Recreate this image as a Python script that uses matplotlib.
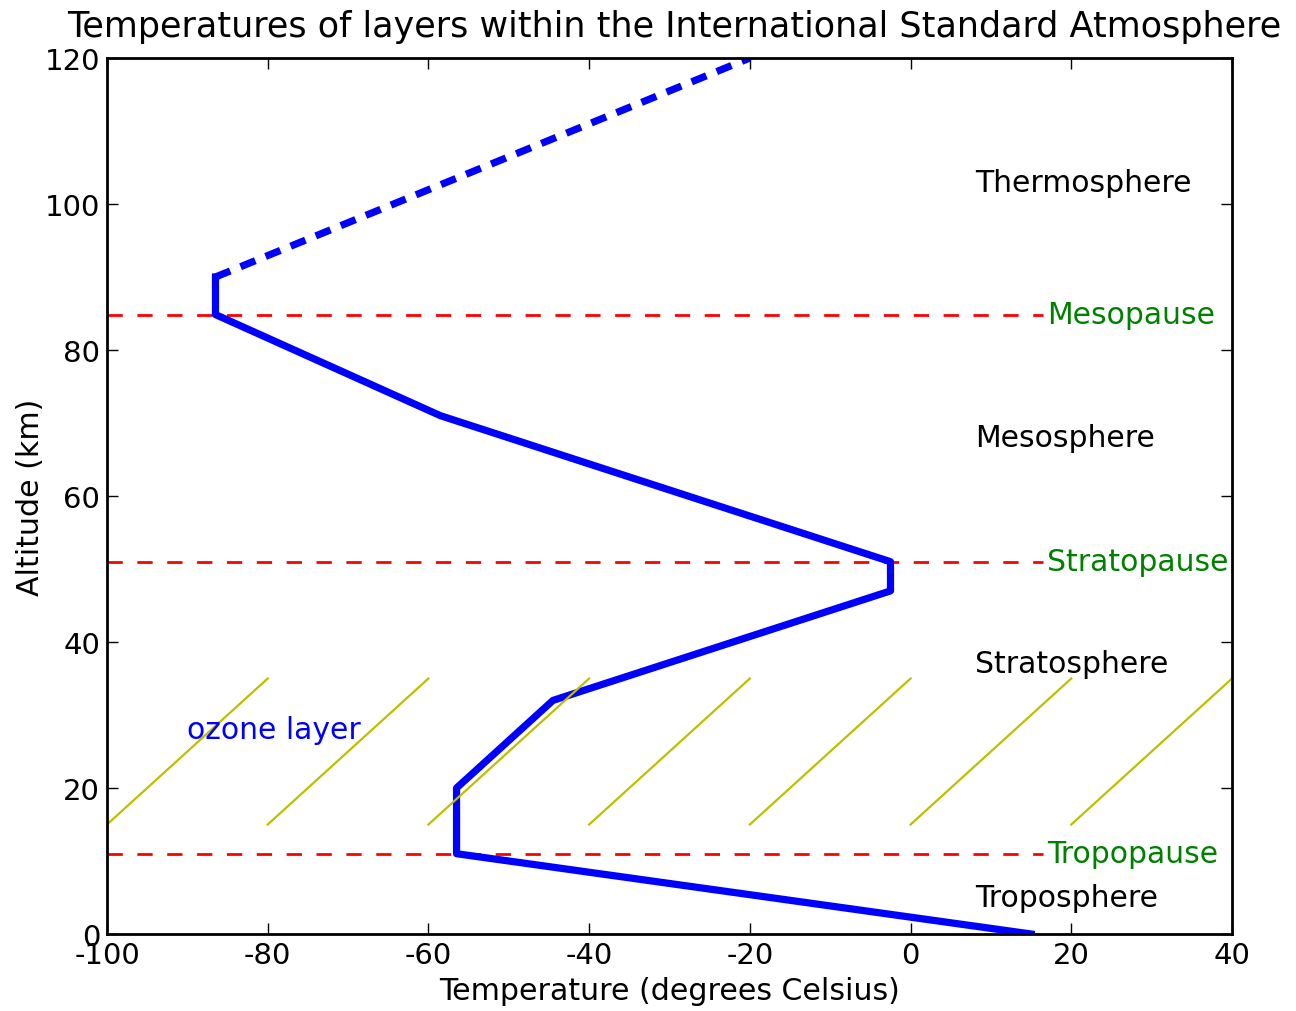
import matplotlib
matplotlib.use('Agg')
import matplotlib.pyplot as plt

# temperature profile of the standard atmosphere (deg C, km)
temps = [15.0, -56.5, -56.5, -44.5, -2.5, -2.5, -58.5, -86.5, -86.5]
alts = [0.0, 11.0, 20.0, 32.0, 47.0, 51.0, 71.0, 84.852, 90.0]
# extrapolated thermosphere part
thermo_temps = [-86.5, -20.0]
thermo_alts = [90.0, 120.0]

# boundaries between layers
pause_names = ['Tropopause', 'Stratopause', 'Mesopause']
pause_alts = [11.0, 51.0, 84.852]

layer_names = ['Troposphere', 'Stratosphere', 'Mesosphere', 'Thermosphere']
layer_alts = [5.0, 37.0, 68.0, 103.0]

# hatching for the ozone layer
ozone_starts = [-100, -80, -60, -40, -20, 0, 20]
ozone_bottom = 15
ozone_top = 35

plt.rcParams['axes.unicode_minus'] = False
plt.rcParams['lines.scale_dashes'] = False
plt.rcParams['font.family'] = 'DejaVu Sans'

fig = plt.figure(figsize=(12.96, 10.12), dpi=100)
ax = fig.add_axes([107/1296, 77/1012, 1125/1296, 876/1012])

for a, name in zip(pause_alts, pause_names):
    ax.plot([-100, 16.5], [a, a], color='red', lw=2.0, dashes=(11, 10.5))
    ax.text(17, a, name, color='green', fontsize=21.5, va='center', ha='left')

ax.plot(temps, alts, color='blue', lw=5.2)
ax.plot(thermo_temps, thermo_alts, color='blue', lw=5.2, dashes=(11.5, 8))

for a, name in zip(layer_alts, layer_names):
    ax.text(8, a, name, color='black', fontsize=21.5, va='center', ha='left')

for x0 in ozone_starts:
    ax.plot([x0, x0 + 20], [ozone_bottom, ozone_top], color='y', lw=1.6)
ax.text(-90, 28, 'ozone layer', color='blue', fontsize=21.5, va='center', ha='left')

ax.set_xlim(-100, 40)
ax.set_ylim(0, 120)
ax.set_xticks(range(-100, 41, 20))
ax.set_yticks(range(0, 121, 20))
ax.tick_params(direction='in', length=8, width=1, labelsize=21, pad=5,
               top=True, right=True)
for s in ax.spines.values():
    s.set_linewidth(2)

ax.set_title('Temperatures of layers within the International Standard Atmosphere',
             fontsize=25.2, pad=16, x=0.5 + 5/1125)
ax.set_xlabel('Temperature (degrees Celsius)', fontsize=21.6, labelpad=5)
ax.set_ylabel('Altitude (km)', fontsize=21.6, labelpad=0)

fig.savefig('out.png', dpi=100)
